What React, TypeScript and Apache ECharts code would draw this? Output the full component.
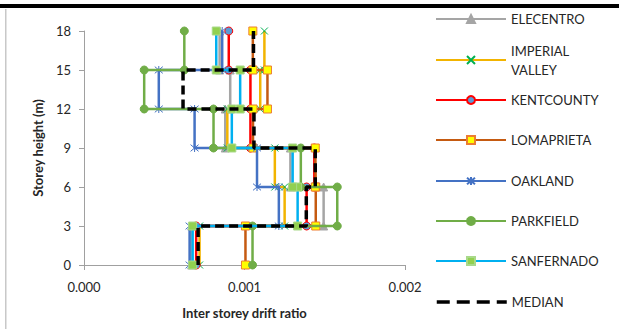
import React, { useEffect, useRef } from "react";
import * as echarts from "echarts";

// ---- data ----
const storeyLevels = [0, 3, 6, 9, 12, 15, 18];
const seriesNames = [
  "ELECENTRO",
  "IMPERIAL VALLEY",
  "KENTCOUNTY",
  "LOMAPRIETA",
  "OAKLAND",
  "PARKFIELD",
  "SANFERNADO",
  "MEDIAN",
];
// inter storey drift ratio per storey (0-3, 3-6, 6-9, 9-12, 12-15, 15-18)
const elecentro = [0.000671, 0.001493, 0.001286, 0.00088, 0.000911, 0.000845];
const imperialValley = [0.00072, 0.00125, 0.001189, 0.000893, 0.001098, 0.001124];
const kentCounty = [0.000699, 0.001387, 0.001435, 0.001037, 0.001037, 0.000902];
const lomaPrieta = [0.001006, 0.001444, 0.001441, 0.001053, 0.001143, 0.001052];
const oakland = [0.000658, 0.001214, 0.001078, 0.000689, 0.000466, 0.000861];
const parkfield = [0.00105, 0.001578, 0.001351, 0.000807, 0.000375, 0.000625];
const sanFernado = [0.000677, 0.001331, 0.0013, 0.000921, 0.000973, 0.000824];
const median = [0.000711, 0.001385, 0.001441, 0.001059, 0.000617, 0.001056];
const xAxisTicks = [0, 0.001, 0.002];
const yAxisTicks = [0, 3, 6, 9, 12, 15, 18];

// ---- layout / style ----
const FONT = 'Lato, "Open Sans", sans-serif';
const legendCenters = [19, 60, 100, 140, 181, 221, 261, 302];

const stepPoints = (vals: number[]) => {
  const pts: number[][] = [];
  vals.forEach((v, i) => {
    pts.push([v, storeyLevels[i]]);
    pts.push([v, storeyLevels[i + 1]]);
  });
  return pts;
};

const X_PATH = "path://M0,0L10,10M10,0L0,10";
const STAR_PATH = "path://M0,0L10,10M10,0L0,10M5,-1L5,11";

const seriesStyles: any[] = [
  {
    data: elecentro,
    lineColor: "#A5A5A5",
    symbol: "triangle",
    symbolSize: 8,
    itemStyle: { color: "#A5A5A5", borderColor: "#A5A5A5", borderWidth: 1 },
  },
  {
    data: imperialValley,
    lineColor: "#F2B400",
    symbol: X_PATH,
    symbolSize: 7,
    itemStyle: { color: "none", borderColor: "#00B050", borderWidth: 1 },
  },
  {
    data: kentCounty,
    lineColor: "#FF0000",
    symbol: "circle",
    symbolSize: 8,
    itemStyle: { color: "#5B9BD5", borderColor: "#FF0000", borderWidth: 1 },
  },
  {
    data: lomaPrieta,
    lineColor: "#C55A11",
    symbol: "rect",
    symbolSize: 8,
    itemStyle: { color: "#FFFF00", borderColor: "#ED7D31", borderWidth: 1 },
  },
  {
    data: oakland,
    lineColor: "#4472C4",
    symbol: STAR_PATH,
    symbolSize: 8,
    itemStyle: { color: "none", borderColor: "#4472C4", borderWidth: 1 },
  },
  {
    data: parkfield,
    lineColor: "#70AD47",
    symbol: "circle",
    symbolSize: 8,
    itemStyle: { color: "#70AD47", borderColor: "#70AD47", borderWidth: 1 },
  },
  {
    data: sanFernado,
    lineColor: "#00B0F0",
    symbol: "rect",
    symbolSize: 8,
    itemStyle: { color: "#92D050", borderColor: "#A9D98A", borderWidth: 1 },
  },
  {
    data: median,
    lineColor: "#000000",
    symbol: "none",
    symbolSize: 0,
    dashed: true,
    itemStyle: { color: "rgba(0,0,0,0)", borderWidth: 0 },
  },
];

export default function App() {
  const ref = useRef<HTMLDivElement>(null);

  useEffect(() => {
    if (!ref.current) return;
    const chart = echarts.init(ref.current, undefined, { renderer: "svg" });

    const series = seriesStyles.map((s, i) => ({
      name: seriesNames[i],
      type: "line",
      data: stepPoints(s.data),
      symbol: s.symbol,
      symbolSize: s.symbolSize,
      showSymbol: s.symbol !== "none",
      itemStyle: s.itemStyle,
      lineStyle: {
        color: s.lineColor,
        width: s.dashed ? 3.5 : 2.5,
        type: s.dashed ? [9, 5] : "solid",
      },
      z: 2 + i,
      emphasis: { disabled: true },
    }));

    const legends = seriesNames.map((name, i) => {
      const imperial = name === "IMPERIAL VALLEY";
      const isMedian = name === "MEDIAN";
      return {
        data: [
          isMedian
            ? {
                name,
                itemStyle: { color: "rgba(0,0,0,0)", borderWidth: 0, opacity: 0 },
                lineStyle: { type: [13, 7], width: 3.5, color: "#000000" },
              }
            : { name },
        ],
        orient: "vertical",
        left: 435,
        top: imperial ? legendCenters[i] - 28.5 : legendCenters[i] - 7,
        padding: 0,
        itemWidth: 70,
        itemHeight: 10,
        itemGap: 0,
        selectedMode: false,
        formatter: imperial ? "IMPERIAL\nVALLEY" : "{name}",
        textStyle: {
          fontFamily: FONT,
          fontSize: 13,
          color: "#262626",
          lineHeight: imperial ? 19 : 14,
          padding: imperial ? [19, 0, 0, 0] : 0,
        },
      };
    });

    chart.setOption({
      animation: false,
      backgroundColor: "#ffffff",
      grid: { left: 84, right: 214, top: 31, bottom: 64, containLabel: false },
      xAxis: {
        type: "value",
        min: xAxisTicks[0],
        max: xAxisTicks[xAxisTicks.length - 1],
        interval: xAxisTicks[1] - xAxisTicks[0],
        name: "Inter storey drift ratio",
        nameLocation: "middle",
        nameGap: 41,
        nameTextStyle: { fontFamily: FONT, fontSize: 13, fontWeight: "bold", color: "#262626" },
        axisLine: { show: true, lineStyle: { color: "#A0A0A0", width: 1 } },
        axisTick: { show: true, length: 5, lineStyle: { color: "#A0A0A0" } },
        axisLabel: {
          fontFamily: FONT,
          fontSize: 13,
          color: "#262626",
          margin: 15,
          formatter: (v: number) => v.toFixed(3),
        },
        splitLine: { show: false },
      },
      yAxis: {
        type: "value",
        min: yAxisTicks[0],
        max: yAxisTicks[yAxisTicks.length - 1],
        interval: yAxisTicks[1] - yAxisTicks[0],
        name: "Storey height (m)",
        nameLocation: "middle",
        nameRotate: 90,
        nameGap: 40,
        nameTextStyle: { fontFamily: FONT, fontSize: 13, fontWeight: "bold", color: "#262626" },
        axisLine: { show: true, lineStyle: { color: "#A0A0A0", width: 1 } },
        axisTick: { show: true, length: 5, lineStyle: { color: "#A0A0A0" } },
        axisLabel: { fontFamily: FONT, fontSize: 13, color: "#262626", margin: 13 },
        splitLine: { show: false },
      },
      legend: legends,
      graphic: [
        { type: "rect", left: 0, top: 4, shape: { width: 619, height: 4 }, style: { fill: "#000000" }, silent: true },
        { type: "rect", left: 5, top: 9, shape: { width: 1.5, height: 320 }, style: { fill: "#C8C8C8" }, silent: true },
      ],
      series,
    });

    return () => chart.dispose();
  }, []);

  return (
    <div
      ref={ref}
      style={{ position: "fixed", left: 0, top: 0, width: 619, height: 329 }}
    />
  );
}
